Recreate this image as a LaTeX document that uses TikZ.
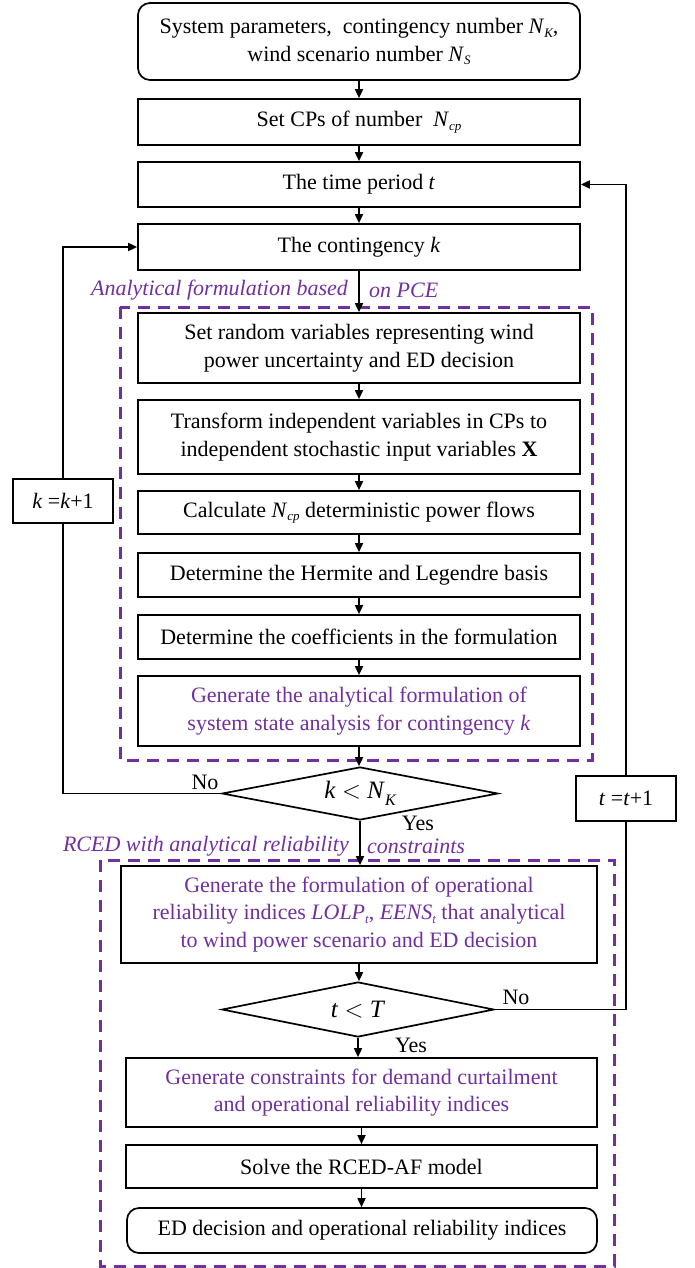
\documentclass[tikz,border=0pt]{standalone}
\usepackage{fontspec}
\setmainfont{Liberation Serif}
\usetikzlibrary{shapes.geometric,arrows.meta}
\definecolor{pur}{HTML}{7030A0}
\newcommand\lsub[1]{\raisebox{-0.35ex}{\fontsize{13}{13}\selectfont\itshape #1}}
\begin{document}
\begin{tikzpicture}[x=1pt,y=-1pt,
  txt/.style={font=\fontsize{22}{27.5}\selectfont},
  box/.style={txt, draw, line width=1.7pt, minimum width=442pt, align=center, inner sep=0pt},
  rbox/.style={box, rounded corners=12pt},
  dec/.style={txt, draw, line width=1.7pt, diamond, aspect=5, inner sep=0pt},
  arr/.style={line width=1.7pt, -{Triangle[length=9pt,width=8pt]}},
  ln/.style={line width=1.7pt},
  grp/.style={draw=pur, line width=3pt, dash pattern=on 12pt off 8pt},
  lab/.style={txt, text=pur, font=\fontsize{22}{27.5}\selectfont\itshape, inner sep=0pt}
]
\useasboundingbox (0,0) rectangle (694,1268);

% group frames
\draw[grp] (120,307) rectangle (592,760);
\draw[grp] (100,860) rectangle (614,1266);

\node[rbox, minimum height=77pt] (top) at (359,41.5) {System parameters,\ \ contingency number \textit{N}\lsub{K},\\wind scenario number \textit{N}\lsub{S}};
\node[box, minimum height=46pt] (cps) at (359,122) {Set CPs of number\ \ \textit{N}\lsub{cp}};
\node[box, minimum height=45pt] (tp) at (359,184.5) {The time period \textit{t}};
\node[box, minimum height=46pt] (ck) at (359,247) {The contingency \textit{k}};

\node[box, minimum height=70pt] (sr) at (359,348) {Set random variables representing wind\\power uncertainty and ED decision};
\node[box, minimum height=74pt] (tr) at (359,437) {Transform independent variables in CPs to\\independent stochastic input variables \textbf{X}};
\node[box, minimum height=43pt] (calc) at (359,512.5) {Calculate \textit{N}\lsub{cp} deterministic power flows};
\node[box, minimum height=44pt] (herm) at (359,575) {Determine the Hermite and Legendre basis};
\node[box, minimum height=44pt] (coef) at (359,637) {Determine the coefficients in the formulation};
\node[box, minimum height=70pt, text=pur] (gen) at (359,711) {Generate the analytical formulation of\\system state analysis for contingency \textit{k}};

\node[dec, minimum width=276pt, minimum height=53pt, font=\fontsize{25}{25}\selectfont] (d1) at (360,793.5) {\textit{k} $<$ \textit{N}\raisebox{-0.6ex}{\fontsize{16}{16}\selectfont\itshape K}};

\node[box, minimum width=100pt, minimum height=44pt] (kk) at (63,501) {\textit{k} =\textit{k}+1};
\node[box, minimum width=100pt, minimum height=45pt] (tt) at (626,798.5) {\textit{t} =\textit{t}+1};

\node[box, minimum width=476pt, minimum height=97pt, text=pur] (form) at (359,914.5) {Generate the formulation of operational\\reliability indices \textit{LOLP}\lsub{t}, \textit{EENS}\lsub{t} that analytical\\to wind power scenario and ED decision};
\node[dec, minimum width=272pt, minimum height=55pt, font=\fontsize{25}{25}\selectfont] (d2) at (358,1009.5) {\textit{t} $<$ \textit{T}};
\node[box, minimum width=471pt, minimum height=69pt, text=pur] (cons) at (361.5,1092.5) {Generate constraints for demand curtailment\\and operational reliability indices};
\node[box, minimum width=471pt, minimum height=43pt] (solve) at (361.5,1166.5) {Solve the RCED-AF model};
\node[rbox, minimum width=470pt, minimum height=45pt] (ed) at (362,1230.5) {ED decision and operational reliability indices};

% group labels
\node[lab, anchor=east] (l1a) at (348,290) {Analytical formulation based};
\node[lab, anchor=west] (l1b) at (369,290) {on PCE};
\node[lab, anchor=east] (l2a) at (349,846) {RCED with analytical reliability};
\node[lab, anchor=west] (l2b) at (367,846) {constraints};

% main flow
\draw[arr] (top.south) -- (top.south |- cps.north);
\draw[arr] (cps.south) -- (cps.south |- tp.north);
\draw[arr] (tp.south) -- (tp.south |- ck.north);
\draw[arr] (ck.south) -- (ck.south |- sr.north);
\draw[arr] (sr.south) -- (sr.south |- tr.north);
\draw[arr] (tr.south) -- (tr.south |- calc.north);
\draw[arr] (calc.south) -- (calc.south |- herm.north);
\draw[arr] (herm.south) -- (herm.south |- coef.north);
\draw[arr] (coef.south) -- (coef.south |- gen.north);
\draw[arr] (gen.south) -- (gen.south |- d1.north);
\draw[arr] (d1.south) -- (d1.south |- form.north);
\draw[arr] (form.south) -- (form.south |- d2.north);
\draw[arr] (d2.south) -- (d2.south |- cons.north);
\draw[arr] (cons.south -| solve.north) -- (solve.north);
\draw[arr] (solve.south) -- (solve.south |- ed.north);

% loops
\draw[ln] (d1.west) -| (kk.south);
\draw[arr] (kk.north) |- (ck.west);
\draw[ln] (d2.east) -| (tt.south);
\draw[arr] (tt.north) |- (tp.east);

% branch labels
\node[txt, inner sep=0pt] (no1) at (205,782) {No};
\node[txt, inner sep=0pt] (yes1) at (418,823) {Yes};
\node[txt, inner sep=0pt] (no2) at (516,997) {No};
\node[txt, inner sep=0pt] (yes2) at (411,1045) {Yes};
\end{tikzpicture}
\end{document}
